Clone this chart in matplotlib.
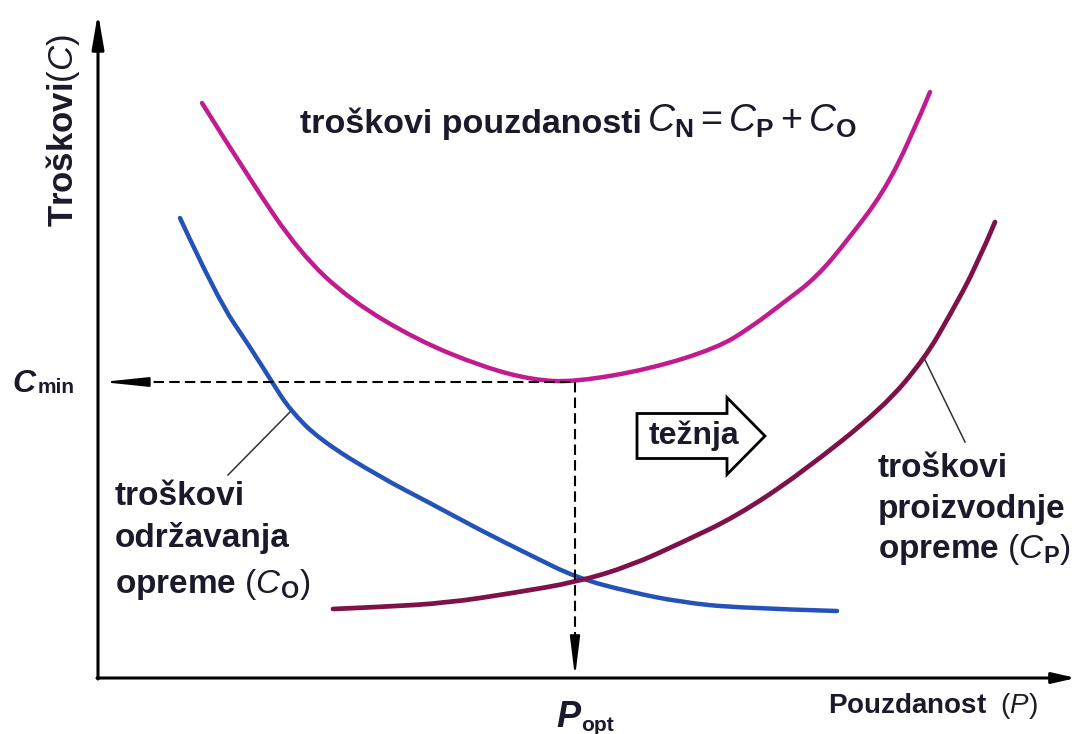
import matplotlib
matplotlib.use('Agg')
import matplotlib.pyplot as plt
from matplotlib.patches import FancyArrow, PathPatch
from matplotlib.path import Path

plt.rcParams['font.family'] = ['Liberation Sans', 'DejaVu Sans']
plt.rcParams['mathtext.fontset'] = 'custom'
plt.rcParams['mathtext.rm'] = 'Liberation Sans'
plt.rcParams['mathtext.it'] = 'Liberation Sans:italic'
plt.rcParams['mathtext.bf'] = 'Liberation Sans:bold'

# curves (P = pouzdanost, C = troskovi, arbitrary units)
p_cn = [10.4, 15.2, 20.2, 25.2, 31.9, 38.5, 43.5, 47.7, 55.2, 61.9, 65.2, 68.5, 71.9, 75.2, 78.5, 81.2, 83.2]
c_cn = [57.5, 49.8, 42.5, 37.8, 33.8, 31.1, 29.8, 29.6, 30.9, 33.0, 35.0, 37.5, 40.1, 44.1, 48.5, 53.8, 58.6]

p_co = [8.2, 11.9, 15.2, 17.4, 19.2, 22.2, 28.2, 33.2, 38.2, 43.2, 47.9, 53.2, 58.2, 63.9, 73.9]
c_co = [46.0, 38.0, 33.1, 29.6, 26.8, 23.8, 20.1, 17.5, 14.8, 12.3, 10.0, 8.6, 7.6, 7.0, 6.7]

p_cp = [23.5, 28.2, 34.9, 41.5, 47.9, 53.2, 58.5, 63.9, 70.2, 78.5, 82.7, 85.2, 87.9, 89.7]
c_cp = [6.9, 7.1, 7.5, 8.5, 9.6, 11.2, 13.6, 16.2, 20.4, 27.0, 32.0, 36.3, 41.3, 45.6]

p_opt = 47.7
c_min = 29.6

label_co = ['troškovi', 'održavanja', r'opreme $(C_\mathbf{O})$']
label_cp = ['troškovi', 'proizvodnje', r'opreme $(C_\mathbf{P})$']

TXT = '#1a1a2a'


def smooth_curve(ax, xs, ys, **kw):
    # quadratic bezier through midpoints, read points used as control points
    pts = list(zip(xs, ys))
    verts = [pts[0]]
    codes = [Path.MOVETO]
    for i in range(1, len(pts) - 1):
        mid = ((pts[i][0] + pts[i + 1][0]) / 2, (pts[i][1] + pts[i + 1][1]) / 2)
        if i == len(pts) - 2:
            mid = pts[-1]
        verts += [pts[i], mid]
        codes += [Path.CURVE3, Path.CURVE3]
    ax.add_patch(PathPatch(Path(verts, codes), fill=False, capstyle='round', **kw))


fig = plt.figure(figsize=(10.78, 7.34), dpi=100)
ax = fig.add_axes([0, 0, 1, 1])
ax.set_xlim(-9.8, 98.0)
ax.set_ylim(-5.6, 67.8)
ax.axis('off')

# axes with arrows
ax.annotate('', xy=(0, 66.5), xytext=(0, -0.1),
            arrowprops=dict(arrowstyle='-|>,head_length=1.05,head_width=0.18',
                            lw=2.2, color='black', mutation_scale=20, shrinkA=0, shrinkB=0))
ax.annotate('', xy=(97.8, 0), xytext=(-0.1, 0),
            arrowprops=dict(arrowstyle='-|>,head_length=0.7,head_width=0.16',
                            lw=2.2, color='black', mutation_scale=20, shrinkA=0, shrinkB=0))

# curves
smooth_curve(ax, p_cn, c_cn, ec='#c21b8f', lw=3.2)
smooth_curve(ax, p_co, c_co, ec='#2552b8', lw=3.2)
smooth_curve(ax, p_cp, c_cp, ec='#7e1248', lw=3.4)

# optimum guides
ax.plot([4.0, p_opt], [c_min, c_min], color='black', lw=1.5, ls=(0, (5, 2.5)))
ax.plot([p_opt, p_opt], [c_min, 3.4], color='black', lw=1.5, ls=(0, (5, 2.5)))
ax.annotate('', xy=(0.4, c_min), xytext=(4.2, c_min),
            arrowprops=dict(arrowstyle='-|>,head_length=1.35,head_width=0.14',
                            lw=1.5, color='black', mutation_scale=20, shrinkA=0, shrinkB=0))
ax.annotate('', xy=(p_opt, 0.1), xytext=(p_opt, 3.6),
            arrowprops=dict(arrowstyle='-|>,head_length=1.2,head_width=0.15',
                            lw=1.5, color='black', mutation_scale=20, shrinkA=0, shrinkB=0))

# leader lines
ax.plot([13.0, 19.2], [20.3, 26.6], color='#333333', lw=1.1)
ax.plot([82.7, 86.7], [31.8, 23.6], color='#333333', lw=1.1)

# texts
ax.text(20.2, 54.5, 'troškovi pouzdanosti', fontsize=24.5, fontweight='bold', color=TXT, va='baseline')
ax.text(54.9, 54.6, r'$C_\mathbf{N}=C_\mathbf{P}+C_\mathbf{O}$', fontsize=27, color=TXT, va='baseline')

ax.text(-3.5, 54.8, r'Troškovi$(C)$', fontsize=25, fontweight='bold', rotation=90,
        ha='center', va='center', color=TXT)

ax.text(-8.6, 28.6, 'C', fontsize=23, fontweight='bold', fontstyle='italic', va='baseline', color=TXT)
ax.text(-6.0, 28.5, 'min', fontsize=15, fontweight='bold', va='baseline', color=TXT)

for txt, y in zip(label_co, [17.3, 13.1, 8.5]):
    ax.text(1.7, y, txt, fontsize=24, fontweight='bold', va='baseline', color=TXT)
for txt, y in zip(label_cp, [20.1, 16.0, 12.0]):
    ax.text(78.0, y, txt, fontsize=24, fontweight='bold', va='baseline', color=TXT)

# tendency arrow
ax.add_patch(FancyArrow(53.9, 24.2, 12.8, 0, width=4.5, head_width=7.7, head_length=3.8,
                        length_includes_head=True, fc='white', ec='black', lw=2))
ax.text(59.6, 24.2, 'težnja', fontsize=23, fontweight='bold', ha='center', va='center', color=TXT)

ax.text(45.8, -4.9, 'P', fontsize=26, fontweight='bold', fontstyle='italic', va='baseline', color=TXT)
ax.text(48.3, -5.3, 'opt', fontsize=15, fontweight='bold', va='baseline', color=TXT)

ax.text(73.0, -3.5, r'Pouzdanost  $(P)$', fontsize=20, fontweight='bold', va='baseline', color=TXT)

fig.savefig('out.png', dpi=100)
